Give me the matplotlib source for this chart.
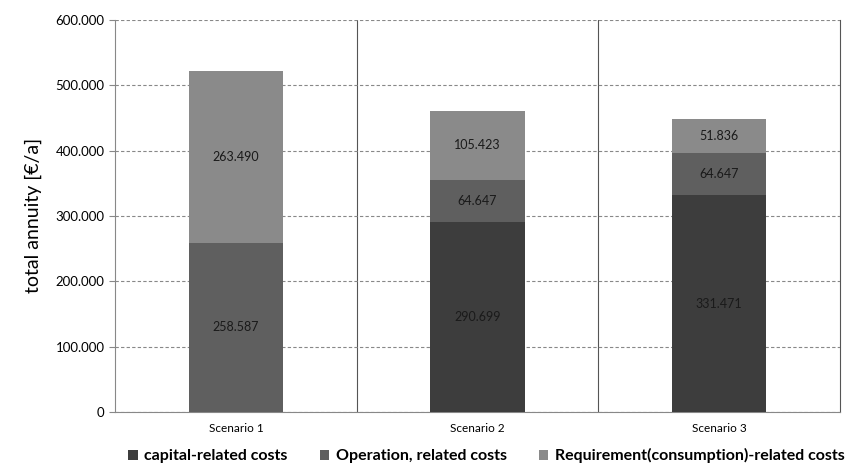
import numpy as np
import matplotlib
matplotlib.use("Agg")
import matplotlib.pyplot as plt
from matplotlib.ticker import FuncFormatter

plt.rcParams["font.family"] = ["Lato", "DejaVu Sans"]

scenarios = ["Scenario 1", "Scenario 2", "Scenario 3"]
capital = [0, 290699, 331471]
operation = [258587, 64647, 64647]
requirement = [263490, 105423, 51836]
series_names = ["capital-related costs", "Operation, related costs",
                "Requirement(consumption)-related costs"]
colors = ["#3d3d3d", "#5f5f5f", "#8a8a8a"]


def fmt_de(v):
    return f"{v:,.0f}".replace(",", ".")


fig = plt.figure(figsize=(8.46, 4.73), dpi=100)
ax = fig.add_axes([0.136, 0.129, 0.857, 0.829])

x = np.arange(len(scenarios))
width = 0.39
bottom = np.zeros(len(scenarios))
for vals, name, col in zip([capital, operation, requirement], series_names, colors):
    vals = np.array(vals, dtype=float)
    ax.bar(x, vals, width, bottom=bottom, color=col, label=name, zorder=3)
    for xi, b, v in zip(x, bottom, vals):
        if v > 0:
            ax.text(xi, b + v / 2, fmt_de(v), ha="center", va="center",
                    fontsize=9, color="#1a1a1a", zorder=4)
    bottom += vals

ax.set_xlim(-0.5, len(scenarios) - 0.5)
ax.set_ylim(0, 600000)
ax.set_yticks(np.arange(0, 600001, 100000))
ax.yaxis.set_major_formatter(FuncFormatter(lambda v, p: fmt_de(v)))
ax.set_xticks(x)
ax.set_xticklabels(scenarios, fontsize=8.5)
ax.tick_params(axis="y", labelsize=9.5, length=4, color="#888888")
ax.tick_params(axis="x", length=0, pad=8)

ax.grid(axis="y", linestyle=(0, (3, 2)), color="#888888", linewidth=0.8, zorder=0)
for b in [0.5, 1.5]:
    ax.axvline(b, color="#555555", linewidth=0.8, zorder=1)

ax.spines["top"].set_visible(False)
ax.spines["left"].set_color("#888888")
ax.spines["bottom"].set_color("#888888")
ax.spines["right"].set_color("#555555")
ax.spines["right"].set_linewidth(0.8)

ax.set_ylabel("total annuity [€/a]", fontsize=14, labelpad=10)

leg = fig.legend(loc="lower center", bbox_to_anchor=(0.575, -0.01), ncol=3,
                 frameon=False, handlelength=0.6, handleheight=0.6,
                 handletextpad=0.4, columnspacing=2.0,
                 prop={"weight": "bold", "size": 11.5})

fig.savefig("out.png", dpi=100)
